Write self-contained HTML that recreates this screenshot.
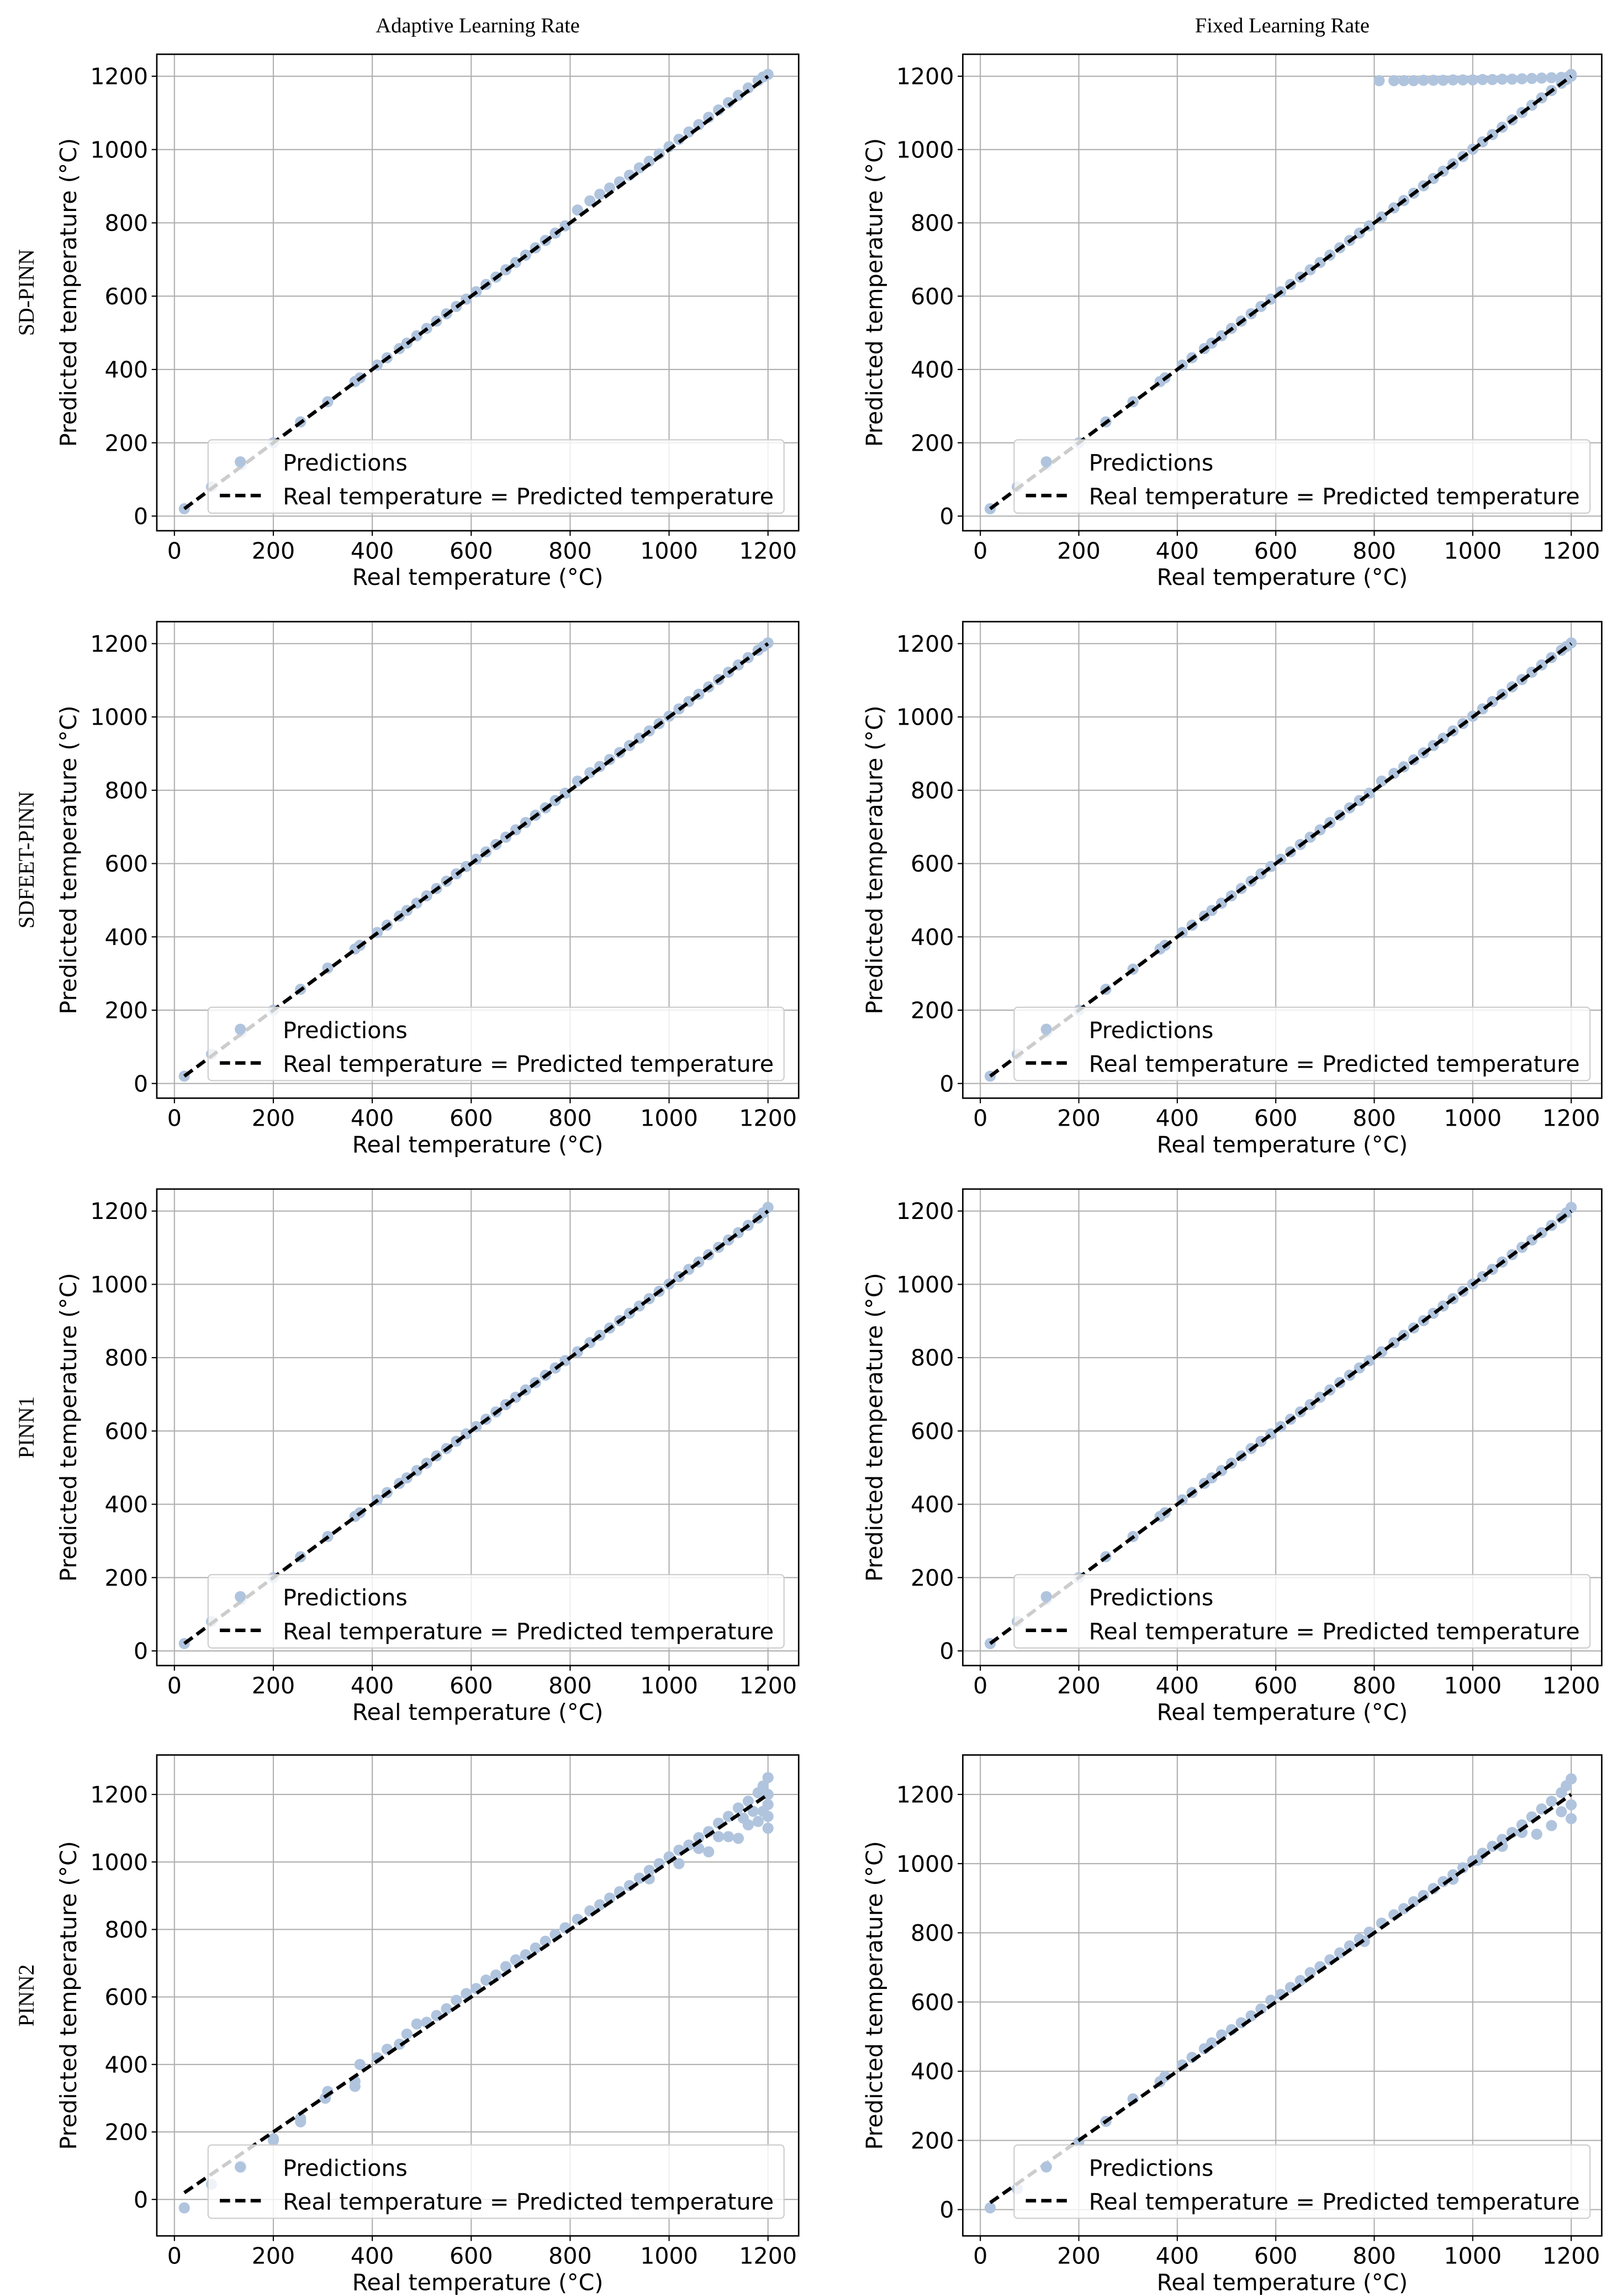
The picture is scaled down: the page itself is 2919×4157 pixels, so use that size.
<!DOCTYPE html>
<html><head><meta charset="utf-8"><style>
html,body{margin:0;padding:0;background:#fff;}
svg{display:block;}
</style></head><body>
<svg id="fig" width="2919" height="4157" viewBox="0 0 1100 1566" preserveAspectRatio="none" xmlns="http://www.w3.org/2000/svg">
<text x="326" y="22" text-anchor="middle" font-family="Liberation Serif, serif" font-size="14.5">Adaptive Learning Rate</text>
<text x="875" y="22" text-anchor="middle" font-family="Liberation Serif, serif" font-size="14.5">Fixed Learning Rate</text>
</svg>
<script>
const rowNames = ["SD-PINN","SDFEET-PINN","PINN1","PINN2"];
const xTicks = [0,200,400,600,800,1000,1200];
const yTicks = [0,200,400,600,800,1000,1200];
const realTemps = [20,75,135,200,255,310,365,375,410,430,455,470,490,510,530,550,570,590,610,630,650,670,690,710,730,750,770,790,815,840,860,880,900,920,940,960,980,1000,1020,1040,1060,1080,1100,1120,1140,1160,1180,1190,1200];
const predSdAdaptive = [20,80,140,200,257,312,367,377,412,432,457,472,492,512,532,552,572,592,612,632,652,672,692,712,732,752,772,792,835,860,878,895,912,930,950,968,988,1008,1028,1048,1068,1088,1108,1128,1148,1168,1188,1198,1205];
const predSdFixed = [20,80,140,200,257,312,367,377,412,432,457,472,492,512,532,552,572,592,612,632,652,672,692,712,732,752,772,792,816,841,861,881,901,921,941,961,981,1001,1021,1041,1061,1081,1101,1121,1141,1161,1181,1191,1200];
const extraSdFixedReal = [810,840,860,880,900,920,940,960,980,1000,1020,1040,1060,1080,1100,1120,1140,1160,1180,1195,1200];
const extraSdFixedPred = [1188,1188,1188,1188,1189,1189,1189,1190,1190,1190,1191,1191,1192,1192,1193,1194,1195,1196,1197,1199,1205];
const predFeetAdaptive = [20,80,140,200,257,315,367,377,412,432,457,472,492,512,532,552,572,592,612,632,652,672,692,712,732,752,772,792,825,848,865,884,903,922,942,962,982,1002,1022,1042,1062,1082,1102,1122,1142,1162,1182,1192,1202];
const predFeetFixed = [20,80,140,200,257,312,367,377,412,432,457,472,492,512,532,552,572,592,612,632,652,672,692,712,732,752,772,792,825,846,864,883,902,922,942,962,982,1002,1022,1042,1062,1082,1102,1122,1142,1162,1182,1192,1202];
const predPinn1Adaptive = [20,80,140,200,257,312,367,377,412,432,457,472,492,512,532,552,572,592,612,632,652,672,692,712,732,752,772,792,816,841,861,881,901,921,941,961,981,1001,1021,1041,1061,1081,1101,1121,1141,1161,1181,1195,1210];
const predPinn1Fixed = [20,80,140,200,257,312,367,377,412,432,457,472,492,512,532,552,572,592,612,632,652,672,692,712,732,752,772,792,816,841,861,881,901,921,941,961,981,1001,1021,1041,1061,1081,1101,1121,1141,1161,1181,1195,1210];
const predPinn2Adaptive = [-25,45,100,180,240,320,350,400,420,445,460,490,520,525,545,565,590,610,625,650,665,690,710,725,745,765,785,805,830,855,873,893,912,930,952,975,995,1015,1035,1050,1072,1090,1115,1135,1160,1180,1205,1225,1250];
const extraPinn2AdaptiveReal = [1020,1080,1060,1100,1120,1140,1160,1180,1200,1200,1200,1200,1190,960,900,255,200,135,305,365,1150,1170];
const extraPinn2AdaptivePred = [995,1030,1040,1075,1075,1070,1110,1120,1100,1135,1170,1200,1150,950,910,230,175,95,300,335,1130,1150];
const predPinn2Fixed = [5,60,125,195,255,320,370,385,418,440,465,482,505,520,540,560,580,605,622,642,662,685,702,722,742,762,782,802,828,852,870,890,908,928,948,968,988,1008,1030,1050,1070,1090,1112,1135,1158,1180,1205,1225,1245];
const extraPinn2FixedReal = [1010,1060,1100,1130,1160,1200,1200,1180,960,780];
const extraPinn2FixedPred = [1010,1050,1090,1085,1110,1130,1170,1150,955,775];

const panels = [
 {row:0,col:0,yd:[-40,1260],pr:predSdAdaptive},
 {row:0,col:1,yd:[-40,1260],pr:predSdFixed,exR:extraSdFixedReal,exP:extraSdFixedPred},
 {row:1,col:0,yd:[-40,1260],pr:predFeetAdaptive},
 {row:1,col:1,yd:[-40,1260],pr:predFeetFixed},
 {row:2,col:0,yd:[-40,1260],pr:predPinn1Adaptive},
 {row:2,col:1,yd:[-40,1260],pr:predPinn1Fixed},
 {row:3,col:0,yd:[-108,1317],pr:predPinn2Adaptive,exR:extraPinn2AdaptiveReal,exP:extraPinn2AdaptivePred},
 {row:3,col:1,yd:[-76,1314],pr:predPinn2Fixed,exR:extraPinn2FixedReal,exP:extraPinn2FixedPred}
];
const svg = document.getElementById('fig');
const NS = "http://www.w3.org/2000/svg";
const rowTop = [37,424,811,1197];
const rowBot = [362,749,1136,1525];
const colL = [107,657], colR = [545,1093];
const xd = [-35.6,1262];
function mk(tag, attrs, parent){const e=document.createElementNS(NS,tag);for(const k in attrs)e.setAttribute(k,attrs[k]);(parent||svg).appendChild(e);return e;}
const SANS = "DejaVu Sans, Liberation Sans, sans-serif";
const FS = 15.5;
panels.forEach((p,i)=>{
  const L=colL[p.col], R=colR[p.col], T=rowTop[p.row], B=rowBot[p.row];
  const sx=v=>L+(v-xd[0])/(xd[1]-xd[0])*(R-L);
  const sy=v=>B-(v-p.yd[0])/(p.yd[1]-p.yd[0])*(B-T);
  const g=mk('g',{});
  
  
  xTicks.forEach(t=>{
    const ln=mk('line',{x1:sx(t),x2:sx(t),y1:T,y2:B,stroke:'#b0b0b0','stroke-width':0.8},g);
    
    
    mk('line',{x1:sx(t),x2:sx(t),y1:B,y2:B+3.5,stroke:'#000','stroke-width':0.8},g);
    const tx=mk('text',{x:sx(t),y:B+19,'text-anchor':'middle','font-family':SANS,'font-size':FS},g);
    tx.textContent=t;
    
    
  });
  yTicks.forEach(t=>{
    const ln=mk('line',{x1:L,x2:R,y1:sy(t),y2:sy(t),stroke:'#b0b0b0','stroke-width':0.8},g);
    
    
    mk('line',{x1:L-3.5,x2:L,y1:sy(t),y2:sy(t),stroke:'#000','stroke-width':0.8},g);
    const tx=mk('text',{x:L-6,y:sy(t)+5.5,'text-anchor':'end','font-family':SANS,'font-size':FS},g);
    tx.textContent=t;
    
    
  });
  const allR = realTemps.concat(p.exR||[]), allP = p.pr.concat(p.exP||[]);
  allR.forEach((r,k)=>{
    const c=mk('circle',{cx:sx(r),cy:sy(allP[k]),r:3.8,fill:'#b0c4de'},g);
    
    
  });
  const dl=mk('line',{x1:sx(20),y1:sy(20),x2:sx(1200),y2:sy(1200),stroke:'#000','stroke-width':2.4,'stroke-dasharray':'7 3.5'},g);
  
  
  const fr=mk('rect',{x:L,y:T,width:R-L,height:B-T,fill:'none',stroke:'#000','stroke-width':1},g);
  
  
  const lx=L+35, ly=B-62;
  const lg=mk('g',{},g);
  
  
  mk('rect',{x:lx,y:ly,width:393,height:50,rx:2.5,fill:'#fff','fill-opacity':0.8,stroke:'#cccccc','stroke-width':0.8},lg);
  mk('circle',{cx:lx+22,cy:ly+15,r:3.8,fill:'#b0c4de'},lg);
  const t1=mk('text',{x:lx+51,y:ly+21,'font-family':SANS,'font-size':FS},lg);
  t1.textContent='Predictions';
  
  
  mk('line',{x1:lx+8,x2:lx+38,y1:ly+38,y2:ly+38,stroke:'#000','stroke-width':2.4,'stroke-dasharray':'7 3.5'},lg);
  const t2=mk('text',{x:lx+51,y:ly+44,'font-family':SANS,'font-size':FS,textLength:335,lengthAdjust:'spacingAndGlyphs'},lg);
  t2.textContent='Real temperature = Predicted temperature';
  
  
  const xl=mk('text',{x:(L+R)/2,y:B+37,'text-anchor':'middle','font-family':SANS,'font-size':FS},g);
  xl.textContent='Real temperature (°C)';
  
  
  const yc=(T+B)/2, yx=L-55;
  const yl=mk('text',{x:yx,y:yc,'text-anchor':'middle','font-family':SANS,'font-size':FS,transform:`rotate(-90 ${yx} ${yc})`},g);
  yl.textContent='Predicted temperature (°C)';
  
  
  if(p.col===0){
    const rx=23;
    const rl=mk('text',{x:rx,y:yc,'text-anchor':'middle','font-family':'Liberation Serif, serif','font-size':15,transform:`rotate(-90 ${rx} ${yc})`},g);
    rl.textContent=rowNames[p.row];
    
    
  }
});
</script>
</body></html>
